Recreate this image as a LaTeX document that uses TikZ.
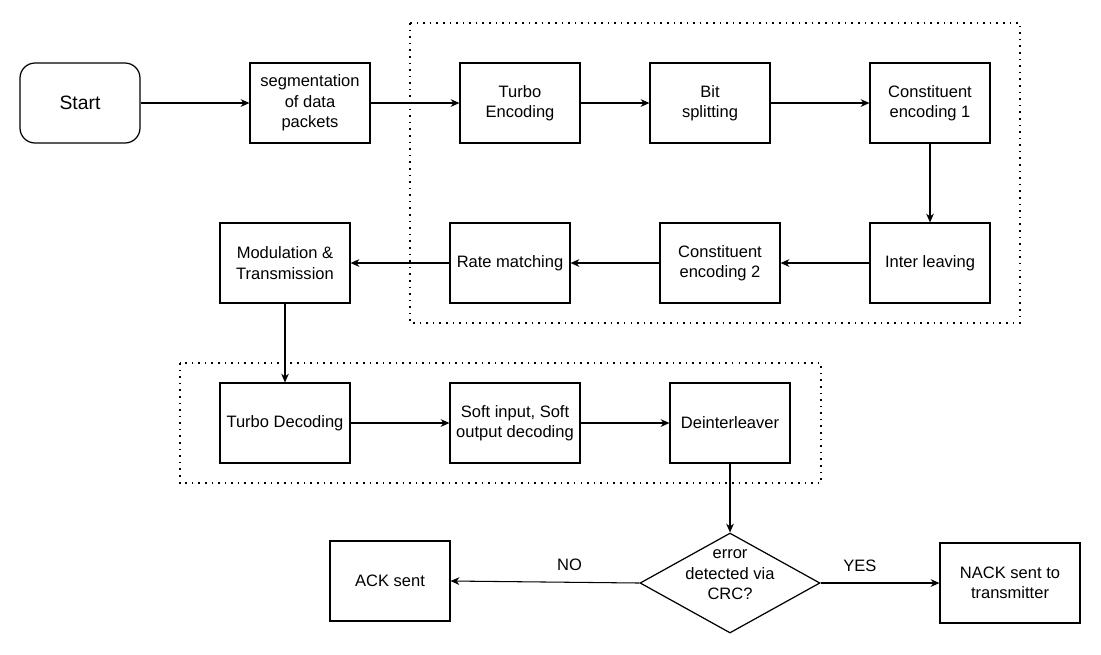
\documentclass[tikz,border=0pt]{standalone}
\usepackage{fontspec}
\setmainfont{Liberation Sans}
\usetikzlibrary{arrows.meta,shapes.geometric}

\begin{document}
\begin{tikzpicture}[x=0.02cm,y=-0.02cm,line width=0.6pt,
    >={Stealth[length=5pt,width=4.4pt,inset=1.6pt]},
    blok/.style={draw,line width=0.7pt,minimum width=2.4cm,minimum height=1.6cm,
      inner sep=1pt,align=center,font=\fontsize{9.4}{11.7}\selectfont},
    wide/.style={blok,minimum width=2.6cm},
    dotbox/.style={draw,line width=0.9pt,dash pattern=on 0.9pt off 2.85pt},
    lbl/.style={font=\fontsize{9.4}{11.7}\selectfont}]
  \useasboundingbox (0,0) rectangle (1101,654);
  \draw[dotbox] (410,23) rectangle (1020,323);
  \draw[dotbox] (180,363) rectangle (821,483);

  \node[blok,rounded corners=0.3cm,font=\fontsize{11}{13}\selectfont] (start) at (80,103) {Start};
  \node[blok] (seg) at (310,103) {segmentation\\of data\\packets};
  \node[blok] (tenc) at (520,103) {Turbo\\Encoding};
  \node[blok] (split) at (710,103) {Bit\\splitting};
  \node[blok] (ce1) at (930,103) {Constituent\\encoding 1};
  \node[blok] (ilv) at (930,263) {Inter leaving};
  \node[blok] (ce2) at (720,263) {Constituent\\encoding 2};
  \node[blok] (rate) at (510,263) {Rate matching};
  \node[wide] (mod) at (285,263) {Modulation \&\\Transmission};
  \node[wide] (tdec) at (285,423) {Turbo Decoding};
  \node[wide] (siso) at (515,423) {Soft input, Soft\\output decoding};
  \node[blok] (deint) at (730,423) {Deinterleaver};
  \node[draw,diamond,line width=0.7pt,minimum width=3.6cm,minimum height=2cm,inner sep=0pt] (crc) at (730,583) {};
  \node[lbl,align=center] (crctext) at (730,575) {error\\detected via\\CRC?};
  \node[blok] (ack) at (390,581) {ACK sent};
  \node[blok,minimum width=2.8cm] (nack) at (1010,583) {NACK sent to\\transmitter};

  \draw[->] (start) -- (seg);
  \draw[->] (seg) -- (tenc);
  \draw[->] (tenc) -- (split);
  \draw[->] (split) -- (ce1);
  \draw[->] (ce1) -- (ilv);
  \draw[->] (ilv) -- (ce2);
  \draw[->] (ce2) -- (rate);
  \draw[->] (rate) -- (mod);
  \draw[->] (mod) -- (tdec);
  \draw[->] (tdec) -- (siso);
  \draw[->] (siso) -- (deint);
  \draw[->] (deint) -- (crc);
  \draw[->] (crc.west) -- node[lbl,pos=0.37,above=3pt] {NO} (ack.east);
  \draw[->] (crc.east) -- node[lbl,pos=0.33,above=3pt] {YES} (nack.west);
\end{tikzpicture}
\end{document}
